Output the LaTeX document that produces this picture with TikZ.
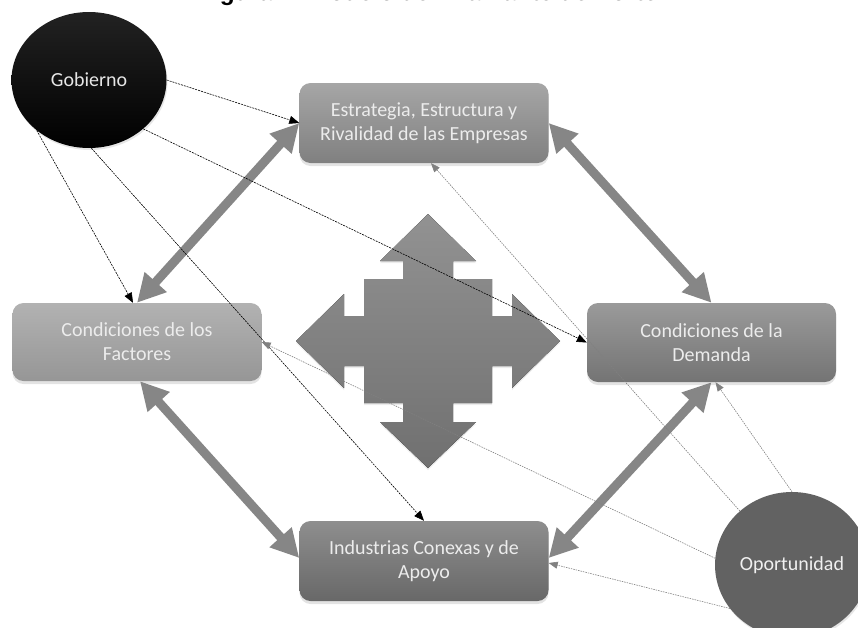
\documentclass[tikz,border=0pt]{standalone}
\usepackage{fontspec}
\setmainfont{Carlito}
\newfontfamily\titlefont{Liberation Sans}
\usetikzlibrary{arrows.meta,shapes.geometric,shadows,calc}
\definecolor{arrowgray}{RGB}{134,134,134}
\definecolor{boxtext}{RGB}{236,236,236}
\definecolor{opogray}{RGB}{98,98,98}
\begin{document}
\begin{tikzpicture}[x=1pt,y=-1pt,
  title/.style={font=\titlefont\bfseries\fontsize{24.4}{28}\selectfont, inner sep=0pt, anchor=base west},
  box/.style={rounded corners=11pt, minimum width=249pt, minimum height=80pt, inner sep=0pt,
    align=center, text=boxtext, font=\fontsize{20}{24}\selectfont,
    drop shadow={shadow xshift=0pt, shadow yshift=-3pt, opacity=0.22}},
  oval/.style={ellipse, inner sep=0pt, font=\fontsize{20}{24}\selectfont,
    drop shadow={shadow xshift=1pt, shadow yshift=-2pt, opacity=0.2}},
  govline/.style={draw=black, line width=0.6pt, dash pattern=on 2pt off 1pt,
    -{Triangle[length=10pt,width=8pt]}},
  opline/.style={draw=gray, line width=0.6pt, dash pattern=on 1.5pt off 1pt,
    -{Triangle[length=9pt,width=7pt]}},
  bigarrow/.style={draw=arrowgray, line width=9pt,
    {Triangle[length=28pt,width=28pt]}-{Triangle[length=28pt,width=28pt]}}
]
\clip (0,0) rectangle (858,627);

% title (cut off at the top edge)
\node[title] (title) at (198,0.5) {Figura 1. Modelo del Diamante de Porter};

% central four-way arrow
\coordinate (c) at (428,341);
\begin{scope}[shift={(c)}]
  \fill[top color={rgb,255:red,146;green,146;blue,146}, bottom color={rgb,255:red,112;green,112;blue,112},
        drop shadow={shadow xshift=0pt, shadow yshift=-2pt, opacity=0.15}]
    (0,-127) -- (48,-80) -- (25,-80) -- (25,-62) -- (64,-62) -- (64,-25) -- (84,-25) -- (84,-47)
    -- (132,0) -- (84,47) -- (84,25) -- (64,25) -- (64,62) -- (25,62) -- (25,81) -- (48,81)
    -- (0,127) -- (-48,81) -- (-25,81) -- (-25,62) -- (-64,62) -- (-64,25) -- (-84,25) -- (-84,47)
    -- (-132,0) -- (-84,-47) -- (-84,-25) -- (-64,-25) -- (-64,-62) -- (-25,-62) -- (-25,-80) -- (-48,-80)
    -- cycle;
\end{scope}

% boxes
\node[box, top color={rgb,255:red,166;green,166;blue,166}, bottom color={rgb,255:red,128;green,128;blue,128}]
  (estr) at (424,123) {Estrategia, Estructura y\\Rivalidad de las Empresas};
\node[box, minimum height=78pt, top color={rgb,255:red,178;green,178;blue,178}, bottom color={rgb,255:red,150;green,150;blue,150}]
  (fact) at (137,342) {Condiciones de los\\Factores};
\node[box, minimum height=79pt, top color={rgb,255:red,154;green,154;blue,154}, bottom color={rgb,255:red,116;green,116;blue,116}]
  (dem) at (711.5,342.5) {Condiciones de la\\Demanda};
\node[box, top color={rgb,255:red,142;green,142;blue,142}, bottom color={rgb,255:red,104;green,104;blue,104}]
  (ind) at (424,561) {Industrias Conexas y de\\Apoyo};

% ovals
\node[oval, minimum width=155pt, minimum height=136pt,
  top color={rgb,255:red,34;green,34;blue,34}, bottom color=black, text={rgb,255:red,230;green,230;blue,230}]
  (gob) at (89,80) {Gobierno};
\node[oval, minimum width=154pt, minimum height=146pt, fill=opogray, text={rgb,255:red,240;green,240;blue,240}]
  (opo) at (792,565) {Oportunidad};

% thick double arrows
\draw[bigarrow] (estr.west) -- (fact.north);
\draw[bigarrow] (estr.east) -- (dem.north);
\draw[bigarrow] ([xshift=3pt]fact.south) -- ([yshift=3pt]ind.west);
\draw[bigarrow] (dem.south) -- ([yshift=3pt]ind.east);

% influences of Gobierno
\draw[govline] (gob.east) -- (estr.west);
\draw[govline] (gob.-42) -- (dem.west);
\draw[govline] (gob.-136) -- ([xshift=-4pt]fact.north);
\draw[govline] (gob.-88) -- (ind.north);

% influences of Oportunidad
\draw[opline] (opo.134) -- ([xshift=7pt]estr.south);
\draw[opline] (opo.north) -- ([xshift=4pt]dem.south);
\draw[opline] (opo.175) -- (fact.east);
\draw[opline] (opo.-145) -- ([yshift=-2pt]ind.east);
\end{tikzpicture}
\end{document}
